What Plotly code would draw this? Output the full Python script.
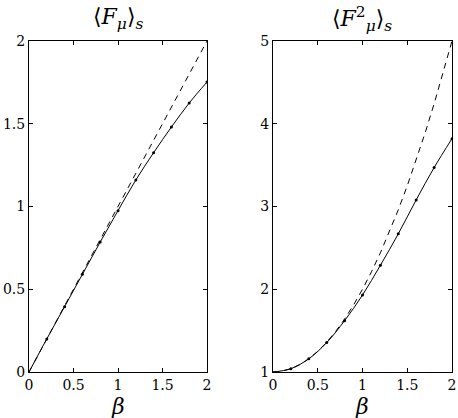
import plotly.graph_objects as go

# Data
beta_pts = [0.0, 0.2, 0.4, 0.6, 0.8, 1.0, 1.2, 1.4, 1.6, 1.8, 2.0]
mean_F = [0.0, 0.20, 0.395, 0.59, 0.785, 0.975, 1.16, 1.325, 1.48, 1.625, 1.752]
mean_F2 = [1.0, 1.04, 1.16, 1.355, 1.62, 1.93, 2.29, 2.67, 3.08, 3.47, 3.82]
beta_dash = [0.0, 0.1, 0.2, 0.3, 0.4, 0.5, 0.6, 0.7, 0.8, 0.9, 1.0, 1.1, 1.2, 1.3, 1.4,
             1.5, 1.6, 1.7, 1.8, 1.9, 2.0]
dash_F = [0.0, 0.1, 0.2, 0.3, 0.4, 0.5, 0.6, 0.7, 0.8, 0.9, 1.0, 1.1, 1.2, 1.3, 1.4,
          1.5, 1.6, 1.7, 1.8, 1.9, 2.0]
dash_F2 = [1.0, 1.01, 1.04, 1.09, 1.16, 1.25, 1.36, 1.49, 1.64, 1.81, 2.0, 2.21, 2.44,
           2.69, 2.96, 3.25, 3.56, 3.89, 4.24, 4.61, 5.0]
x_ticks = [0, 0.5, 1, 1.5, 2]
x_ticklabels = ["0", "0.5", "1", "1.5", "2"]
y1_ticks = [0, 0.5, 1, 1.5, 2]
y1_ticklabels = ["0", "0.5", "1", "1.5", "2"]
y2_ticks = [1, 2, 3, 4, 5]
y2_ticklabels = ["1", "2", "3", "4", "5"]
titles = ["⟨<i>F</i><sub><i>μ</i></sub>⟩<sub><i>s</i></sub>",
          "⟨<i>F</i><sup>2</sup><sub><i>μ</i></sub>⟩<sub><i>s</i></sub>"]
xlabel = "<i>β</i>"

W, H = 458, 418
FONT = "DejaVu Serif"

fig = go.Figure()

# Left panel
fig.add_trace(go.Scatter(x=beta_dash, y=dash_F, mode="lines",
                         line=dict(color="black", width=1, dash="6px,5px"),
                         xaxis="x", yaxis="y", showlegend=False))
fig.add_trace(go.Scatter(x=beta_pts, y=mean_F, mode="lines",
                         line=dict(color="black", width=1, shape="spline"),
                         xaxis="x", yaxis="y", showlegend=False))
fig.add_trace(go.Scatter(x=beta_pts[1:], y=mean_F[1:], mode="markers",
                         marker=dict(color="black", size=3),
                         xaxis="x", yaxis="y", showlegend=False))
# Right panel
fig.add_trace(go.Scatter(x=beta_dash, y=dash_F2, mode="lines",
                         line=dict(color="black", width=1, dash="6px,5px"),
                         xaxis="x2", yaxis="y2", showlegend=False))
fig.add_trace(go.Scatter(x=beta_pts, y=mean_F2, mode="lines",
                         line=dict(color="black", width=1, shape="spline"),
                         xaxis="x2", yaxis="y2", showlegend=False))
fig.add_trace(go.Scatter(x=beta_pts[1:], y=mean_F2[1:], mode="markers",
                         marker=dict(color="black", size=3),
                         xaxis="x2", yaxis="y2", showlegend=False))

xd1 = [29 / W, 207 / W]
xd2 = [273 / W, 452 / W]
yd = [(H - 372) / H, (H - 41) / H]

common = dict(showline=True, linecolor="black", linewidth=1, mirror="ticks",
              ticks="inside", ticklen=4, tickcolor="black", showgrid=False,
              zeroline=False, tickfont=dict(family=FONT, size=14, color="black"),
              automargin=False)

fig.update_layout(
    width=W, height=H,
    margin=dict(l=0, r=0, t=0, b=0),
    paper_bgcolor="white", plot_bgcolor="white",
    font=dict(family=FONT, color="black"),
    xaxis=dict(domain=xd1, range=[0, 2], tickvals=x_ticks, ticktext=x_ticklabels,
               anchor="y", **common),
    yaxis=dict(domain=yd, range=[0, 2], tickvals=y1_ticks, ticktext=y1_ticklabels,
               anchor="x", **common),
    xaxis2=dict(domain=xd2, range=[0, 2], tickvals=x_ticks, ticktext=x_ticklabels,
                anchor="y2", **common),
    yaxis2=dict(domain=yd, range=[1, 5], tickvals=y2_ticks, ticktext=y2_ticklabels,
                anchor="x2", **common),
)

ann = []
for i, (xd, t) in enumerate(zip([xd1, xd2], titles)):
    xc = (xd[0] + xd[1]) / 2
    ann.append(dict(text=t, x=xc, y=1 - 19 / H, xref="paper", yref="paper",
                    showarrow=False, font=dict(family=FONT, size=22, color="black"),
                    xanchor="center", yanchor="middle"))
    ann.append(dict(text=xlabel, x=xc, y=1 - 406 / H, xref="paper", yref="paper",
                    showarrow=False, font=dict(family=FONT, size=22, color="black"),
                    xanchor="center", yanchor="middle"))
fig.update_layout(annotations=ann)

fig.write_html("out.html")
